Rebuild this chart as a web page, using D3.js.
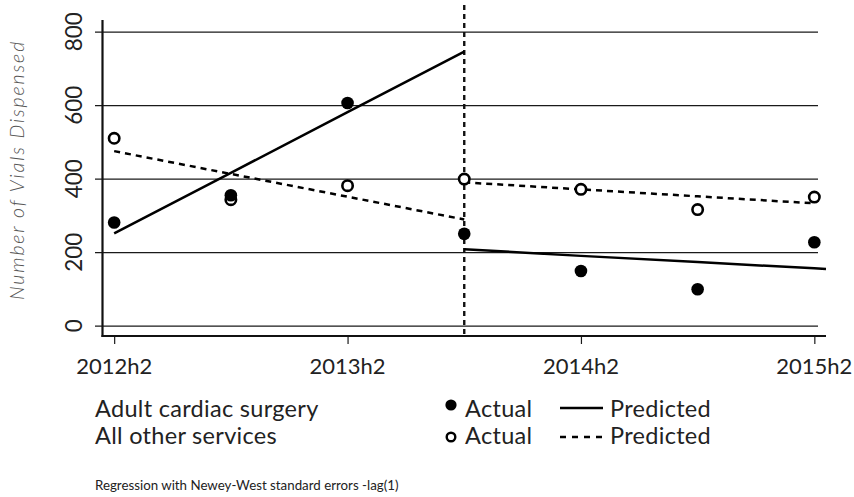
<!DOCTYPE html>
<html>
<head>
<meta charset="utf-8">
<script src="https://cdn.jsdelivr.net/npm/d3@7"></script>
<style>
  html, body { margin: 0; padding: 0; background: #fff; }
  svg { display: block; font-family: Lato, "Open Sans", sans-serif; }
</style>
</head>
<body>
<svg id="chart" width="854" height="497"></svg>
<script>
// Half-year periods (index 0 = 2012h2)
const periods = ["2012h2", "2013h1", "2013h2", "2014h1", "2014h2", "2015h1", "2015h2"];
const tickPeriods = ["2012h2", "2013h2", "2014h2", "2015h2"];
const yTicks = [0, 200, 400, 600, 800];
const breakPeriod = "2014h1";

// Observed vials dispensed
const cardiacActual = [281, 355, 606, 250, 149, 99, 227];
const otherActual   = [510, 343, 381, 399, 371, 316, 350];

// Segmented regression fits (before / after the break)
const cardiacPredPre  = [251, 416, 581, 746];
const cardiacPredPost = [208, 190, 173, 156];
const otherPredPre    = [475, 413, 351, 289];
const otherPredPost   = [390, 371, 352, 333];

const svg = d3.select("#chart");
const ink = "#222";

const x = d3.scaleLinear().domain([-0.1, 6.1]).range([102.5, 826]);
const y = d3.scaleLinear().domain([0, 800]).range([325.7, 31.7]);
const idx = p => periods.indexOf(p);

// Horizontal grid lines with left ticks
const yAxis = d3.axisLeft(y).tickValues(yTicks).tickSizeOuter(0).tickFormat("");
const gy = svg.append("g").call(yAxis);
gy.select(".domain").remove();
gy.selectAll(".tick line").attr("stroke", "#1a1a1a").attr("stroke-width", 1.2)
  .attr("x1", 95).attr("x2", 818);

// Rotated y tick labels
svg.append("g").selectAll("text").data(yTicks).join("text")
  .attr("transform", d => `translate(82,${y(d)}) rotate(-90)`)
  .attr("text-anchor", "middle")
  .attr("font-size", 22.5)
  .attr("fill", ink)
  .text(d => d);

// Y axis title
svg.append("text")
  .attr("transform", "translate(24,170) rotate(-90)")
  .attr("text-anchor", "middle")
  .attr("font-size", 19.5)
  .attr("font-style", "italic")
  .attr("font-weight", 300)
  .attr("letter-spacing", 1.9)
  .attr("fill", "#555")
  .text("Number of Vials Dispensed");

// X axis ticks and labels
const xAxis = d3.axisBottom(x).tickValues(tickPeriods.map(idx)).tickSize(8).tickSizeOuter(0).tickFormat("");
const gx = svg.append("g").attr("transform", "translate(0,336)").call(xAxis);
gx.select(".domain").remove();
gx.selectAll(".tick line").attr("stroke", "#1a1a1a").attr("stroke-width", 1.2);

svg.append("g").selectAll("text").data(tickPeriods).join("text")
  .attr("x", d => x(idx(d)))
  .attr("y", 374)
  .attr("text-anchor", "middle")
  .attr("font-size", 22)
  .attr("fill", ink)
  .text(d => d);

// Plot frame: left and bottom axis lines
svg.append("line").attr("x1", 102.5).attr("x2", 102.5).attr("y1", 20).attr("y2", 337)
  .attr("stroke", "#111").attr("stroke-width", 2.2);
svg.append("line").attr("x1", 101.5).attr("x2", 826).attr("y1", 336).attr("y2", 336)
  .attr("stroke", "#111").attr("stroke-width", 2.2);

// Break line
svg.append("line")
  .attr("x1", x(idx(breakPeriod))).attr("x2", x(idx(breakPeriod)))
  .attr("y1", 5).attr("y2", 336)
  .attr("stroke", "#111").attr("stroke-width", 2.4).attr("stroke-dasharray", "5,4");

// Fitted lines
const line = d3.line().x(d => x(d[0])).y(d => y(d[1]));
const b = idx(breakPeriod);
const pre = vals => vals.map((v, i) => [i, v]);
const post = vals => vals.map((v, i) => [b + i, v]);
// extend the post-break cardiac fit to the edge of the axis
const extend = pts => {
  const [a, c] = pts.slice(-2);
  const slope = (c[1] - a[1]) / (c[0] - a[0]);
  const xe = x.domain()[1];
  return pts.concat([[xe, c[1] + slope * (xe - c[0])]]);
};

svg.append("path").attr("d", line(pre(cardiacPredPre)))
  .attr("fill", "none").attr("stroke", "#000").attr("stroke-width", 2.5);
svg.append("path").attr("d", line(extend(post(cardiacPredPost))))
  .attr("fill", "none").attr("stroke", "#000").attr("stroke-width", 2.5);
svg.append("path").attr("d", line(pre(otherPredPre)))
  .attr("fill", "none").attr("stroke", "#000").attr("stroke-width", 2.5).attr("stroke-dasharray", "6,5");
svg.append("path").attr("d", line(post(otherPredPost)))
  .attr("fill", "none").attr("stroke", "#000").attr("stroke-width", 2.5).attr("stroke-dasharray", "6,5");

// Observed points
svg.append("g").selectAll("circle").data(otherActual).join("circle")
  .attr("cx", (d, i) => x(i)).attr("cy", d => y(d)).attr("r", 5.2)
  .attr("fill", "#fff").attr("stroke", "#000").attr("stroke-width", 2.6);
svg.append("g").selectAll("circle").data(cardiacActual).join("circle")
  .attr("cx", (d, i) => x(i)).attr("cy", d => y(d)).attr("r", 6.3)
  .attr("fill", "#000");

// Legend
const lg = svg.append("g").attr("font-size", 23.5).attr("letter-spacing", 0.3).attr("fill", ink);
lg.append("text").attr("x", 95).attr("y", 417).text("Adult cardiac surgery");
lg.append("text").attr("x", 95).attr("y", 444).text("All other services");
lg.append("circle").attr("cx", 451).attr("cy", 405).attr("r", 5.6).attr("fill", "#000");
lg.append("circle").attr("cx", 451).attr("cy", 437).attr("r", 4.3)
  .attr("fill", "#fff").attr("stroke", "#000").attr("stroke-width", 2.4);
lg.append("text").attr("x", 465).attr("y", 417).text("Actual");
lg.append("text").attr("x", 465).attr("y", 444).text("Actual");
lg.append("line").attr("x1", 560).attr("x2", 603).attr("y1", 408).attr("y2", 408)
  .attr("stroke", "#000").attr("stroke-width", 2.3);
lg.append("line").attr("x1", 560).attr("x2", 603).attr("y1", 437).attr("y2", 437)
  .attr("stroke", "#000").attr("stroke-width", 2.3).attr("stroke-dasharray", "6,6");
lg.append("text").attr("x", 610).attr("y", 417).text("Predicted");
lg.append("text").attr("x", 610).attr("y", 444).text("Predicted");

// Footnote
svg.append("text").attr("x", 95).attr("y", 490)
  .attr("font-size", 13.3).attr("fill", ink)
  .text("Regression with Newey-West standard errors -lag(1)");
</script>
</body>
</html>
